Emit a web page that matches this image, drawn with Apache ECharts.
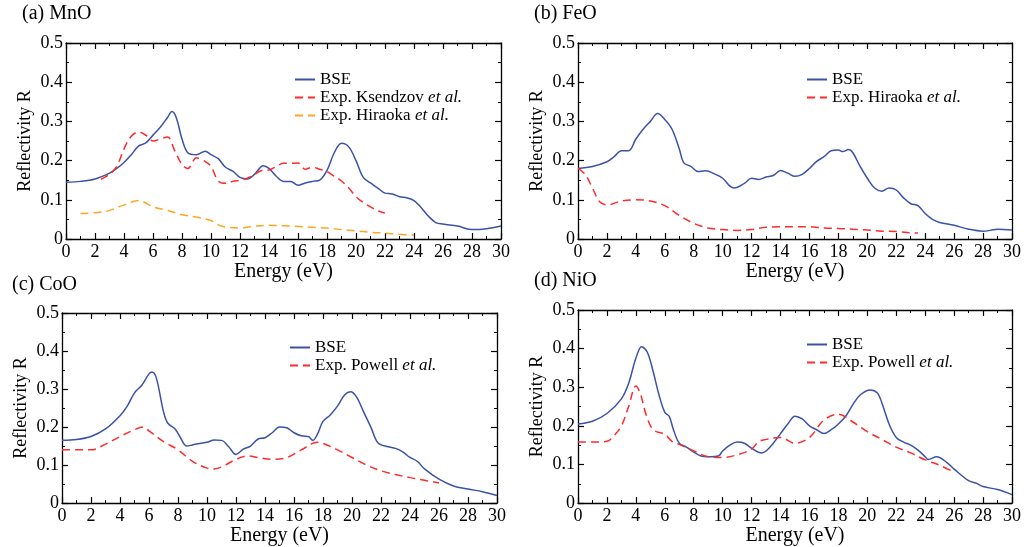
<!DOCTYPE html>
<html><head><meta charset="utf-8">
<script src="https://cdn.jsdelivr.net/npm/echarts@6/dist/echarts.min.js"></script>
<style>html,body{margin:0;padding:0;background:#fff}#c{width:1024px;height:547px}</style>
</head><body><div id="c"></div>
<script>
// ---- data (Energy eV, Reflectivity R) ----
const panelTitles = ['(a) MnO', '(b) FeO', '(c) CoO', '(d) NiO'];
const xTicks = [0, 30, 2];
const yTicks = [0, 0.5, 0.1];

const mnoBSE = [[0,0.145],[1,0.147],[2,0.153],[3,0.168],[3.5,0.18],[4,0.195],[4.5,0.215],[5,0.237],[5.5,0.245],[6,0.265],[6.5,0.285],[7,0.31],[7.3,0.325],[7.6,0.31],[8,0.255],[8.4,0.22],[9,0.215],[9.6,0.224],[10,0.215],[10.5,0.205],[11,0.183],[11.5,0.173],[12,0.157],[12.5,0.153],[13,0.165],[13.6,0.187],[14,0.18],[14.5,0.16],[15,0.147],[15.5,0.147],[16,0.137],[16.5,0.143],[17,0.147],[17.5,0.15],[18,0.175],[18.5,0.22],[19,0.244],[19.5,0.235],[20,0.2],[20.5,0.157],[21,0.143],[21.5,0.13],[22,0.117],[22.5,0.115],[23,0.108],[23.5,0.105],[24,0.098],[24.5,0.08],[25,0.058],[25.5,0.042],[26,0.038],[27,0.033],[28,0.024],[28.5,0.024],[29,0.026],[30,0.033]];
const mnoKsendzov = [[2.4,0.152],[3,0.165],[3.5,0.185],[4,0.23],[4.5,0.262],[5,0.273],[5.5,0.265],[6,0.25],[6.5,0.255],[7,0.26],[7.5,0.225],[8,0.19],[8.4,0.18],[9,0.207],[9.5,0.2],[10,0.185],[10.5,0.148],[11,0.142],[11.5,0.147],[12,0.15],[12.5,0.155],[13,0.165],[13.5,0.175],[14,0.176],[14.5,0.185],[15,0.193],[15.5,0.193],[16,0.194],[16.5,0.178],[17,0.183],[17.5,0.178],[18,0.172],[18.5,0.16],[19,0.148],[19.5,0.13],[20,0.108],[20.5,0.093],[21,0.082],[21.5,0.072],[22,0.066]];
const mnoHiraoka = [[1,0.065],[2,0.067],[3,0.073],[4,0.087],[5,0.098],[6,0.082],[7,0.073],[8,0.062],[9,0.056],[10,0.047],[10.7,0.033],[12,0.028],[13,0.033],[14,0.035],[15,0.034],[16,0.032],[17,0.03],[18,0.028],[19,0.024],[20,0.021],[21,0.017],[22,0.015],[23,0.012],[24,0.01]];

const feoBSE = [[0,0.18],[1,0.185],[2,0.197],[2.5,0.21],[3,0.225],[3.5,0.225],[4,0.255],[4.5,0.28],[5,0.3],[5.5,0.32],[6,0.305],[6.5,0.28],[7,0.23],[7.3,0.195],[7.8,0.185],[8.3,0.172],[8.8,0.174],[9.5,0.165],[10,0.155],[10.5,0.135],[10.8,0.13],[11.5,0.142],[12,0.155],[12.5,0.152],[13,0.158],[13.5,0.162],[14,0.175],[14.5,0.168],[15,0.16],[15.5,0.165],[16,0.18],[16.5,0.198],[17,0.21],[17.5,0.225],[18,0.227],[18.3,0.223],[18.7,0.228],[19,0.22],[19.5,0.185],[20,0.155],[20.5,0.13],[21,0.122],[21.5,0.13],[22,0.125],[22.5,0.105],[23,0.09],[23.5,0.085],[24,0.065],[24.5,0.05],[25,0.042],[26,0.035],[27,0.025],[28,0.02],[28.5,0.022],[29,0.025],[30,0.023]];
const feoHiraoka = [[0,0.18],[0.5,0.165],[1,0.13],[1.5,0.095],[2,0.087],[3,0.097],[4,0.1],[5,0.097],[6,0.085],[7,0.06],[8,0.04],[9,0.028],[10,0.024],[11,0.022],[12,0.024],[13,0.03],[14,0.031],[15,0.031],[16,0.031],[17,0.028],[18,0.027],[19,0.025],[20,0.023],[21,0.02],[22,0.019],[23,0.016],[23.5,0.015]];

const cooBSE = [[0,0.165],[1,0.167],[2,0.175],[3,0.195],[4,0.23],[4.5,0.255],[5,0.29],[5.5,0.31],[6,0.34],[6.2,0.345],[6.5,0.33],[7,0.24],[7.3,0.21],[7.8,0.195],[8.2,0.17],[8.6,0.15],[9,0.153],[9.5,0.157],[10,0.16],[10.5,0.166],[11,0.165],[11.5,0.148],[12,0.128],[12.5,0.142],[13,0.15],[13.5,0.168],[14,0.172],[14.5,0.185],[15,0.2],[15.5,0.198],[16,0.185],[16.5,0.177],[17,0.175],[17.3,0.165],[17.6,0.18],[18,0.215],[18.5,0.232],[19,0.255],[19.5,0.285],[19.9,0.293],[20.3,0.28],[20.8,0.24],[21.3,0.2],[21.8,0.158],[22.5,0.148],[23,0.144],[23.5,0.135],[24,0.12],[24.5,0.11],[25,0.09],[26,0.063],[27,0.045],[28,0.037],[29,0.03],[30,0.02]];
const cooPowell = [[0,0.14],[1,0.14],[2,0.14],[3,0.155],[4,0.175],[5,0.193],[5.6,0.2],[6,0.19],[7,0.162],[8,0.14],[9,0.11],[10,0.092],[10.5,0.09],[11,0.095],[12,0.115],[12.8,0.124],[13.5,0.12],[14.5,0.115],[15.5,0.12],[16.5,0.14],[17.6,0.16],[18,0.157],[19,0.14],[20,0.12],[21,0.1],[22,0.085],[23,0.075],[24,0.067],[25,0.06],[26,0.053]];

const nioBSE = [[0,0.205],[1,0.212],[2,0.232],[3,0.27],[3.5,0.31],[4,0.375],[4.4,0.405],[4.8,0.39],[5.2,0.34],[5.6,0.28],[6,0.235],[6.3,0.225],[6.6,0.19],[7,0.155],[7.5,0.145],[8,0.132],[8.5,0.122],[9,0.12],[9.7,0.122],[10,0.135],[10.5,0.15],[11,0.158],[11.5,0.155],[12,0.142],[12.7,0.13],[13,0.135],[13.5,0.155],[14,0.18],[14.5,0.205],[15,0.225],[15.5,0.218],[16,0.2],[16.5,0.19],[17,0.18],[17.5,0.19],[18,0.205],[18.5,0.225],[19,0.255],[19.5,0.28],[20.2,0.293],[20.7,0.285],[21,0.26],[21.5,0.205],[22,0.17],[22.5,0.158],[23,0.15],[23.5,0.137],[24,0.12],[24.2,0.113],[24.8,0.12],[25.5,0.105],[26,0.088],[27,0.058],[27.5,0.052],[28,0.043],[29,0.035],[30,0.022]];
const nioPowell = [[0,0.158],[1,0.158],[2,0.16],[2.5,0.175],[3,0.2],[3.5,0.25],[4,0.303],[4.3,0.285],[4.7,0.23],[5.2,0.19],[6,0.178],[6.5,0.16],[7,0.152],[8,0.135],[9,0.12],[10,0.118],[11,0.125],[12,0.14],[12.5,0.16],[13,0.165],[14,0.17],[15,0.155],[16,0.17],[17,0.215],[18,0.23],[19,0.21],[20,0.185],[21,0.165],[22,0.145],[23,0.13],[24,0.112],[25,0.098],[26,0.08]];

// ---- styling ----
const FONT = '"Liberation Serif","DejaVu Serif",serif';
const BLUE = '#3a52a8', RED = '#ff2a2a', ORANGE = '#ffa520';
const grids = [
  {left: 66, top: 43, width: 435, height: 196},
  {left: 578, top: 43, width: 435, height: 196},
  {left: 62, top: 313, width: 435, height: 195},
  {left: 578, top: 310, width: 435, height: 195}
];
const titlePos = [[22, 4], [534, 4], [12, 275], [534, 271]];

const xAxes = [], yAxes = [];
grids.forEach((g, i) => {
  const common = {
    gridIndex: i, type: 'value', min: xTicks[0], max: xTicks[1], interval: xTicks[2],
    axisLine: {show: true, onZero: false, lineStyle: {color: '#000', width: 1.3}},
    axisTick: {show: true, inside: true, length: 6, lineStyle: {color: '#000', width: 1.2}},
    minorTick: {show: true, splitNumber: 2, length: 3, lineStyle: {color: '#000', width: 1}},
    splitLine: {show: false}
  };
  xAxes.push(Object.assign({}, common, {
    position: 'bottom', name: 'Energy (eV)', nameLocation: 'middle', nameGap: 19,
    nameTextStyle: {fontFamily: FONT, fontSize: 20, color: '#000'},
    axisLabel: {show: true, fontFamily: FONT, fontSize: 18, color: '#000', margin: 4}
  }));
  xAxes.push(Object.assign({}, common, {position: 'top', axisLabel: {show: false}}));
  const ycommon = Object.assign({}, common, {min: yTicks[0], max: yTicks[1], interval: yTicks[2]});
  yAxes.push(Object.assign({}, ycommon, {
    position: 'left', name: 'Reflectivity R', nameLocation: 'middle', nameGap: 32,
    nameTextStyle: {fontFamily: FONT, fontSize: 18, color: '#000'},
    axisLabel: {show: true, fontFamily: FONT, fontSize: 18, color: '#000', margin: 3,
      formatter: v => v === 0 ? '0' : v.toFixed(1)}
  }));
  yAxes.push(Object.assign({}, ycommon, {position: 'right', axisLabel: {show: false}}));
});

function line(name, data, grid, color, dashed) {
  return {
    type: 'line', name: name, data: data, xAxisIndex: grid * 2, yAxisIndex: grid * 2,
    symbol: 'none', smooth: 0.35, animation: false,
    lineStyle: {color: color, width: 1.5, type: dashed ? [8, 5] : 'solid'},
    itemStyle: {color: color}
  };
}
const series = [
  line('BSE', mnoBSE, 0, BLUE, false),
  line('Exp. Ksendzov et al.', mnoKsendzov, 0, RED, true),
  line('Exp. Hiraoka et al.', mnoHiraoka, 0, ORANGE, true),
  line('BSE', feoBSE, 1, BLUE, false),
  line('Exp. Hiraoka et al. ', feoHiraoka, 1, RED, true),
  line('BSE', cooBSE, 2, BLUE, false),
  line('Exp. Powell et al.', cooPowell, 2, RED, true),
  line('BSE', nioBSE, 3, BLUE, false),
  line('Exp. Powell et al.', nioPowell, 3, RED, true)
];

const legendData = [
  ['BSE', 'Exp. Ksendzov et al.', 'Exp. Hiraoka et al.'],
  ['BSE', 'Exp. Hiraoka et al. '],
  ['BSE', 'Exp. Powell et al.'],
  ['BSE', 'Exp. Powell et al.']
];
const legendPos = [[289, 66], [801, 66], [284, 334], [801, 331]];
const legends = legendData.map((d, i) => ({
  data: d, orient: 'vertical', left: legendPos[i][0], top: legendPos[i][1],
  itemWidth: 20, itemHeight: 14, itemGap: 1, selectedMode: false,
  itemStyle: {opacity: 0},
  textStyle: {fontFamily: FONT, fontSize: 17, color: '#000',
    rich: {i: {fontFamily: FONT, fontSize: 17, fontStyle: 'italic', color: '#000'}}},
  formatter: n => n.trim().replace('et al.', '{i|et al.}')
}));

const chart = echarts.init(document.getElementById('c'), null, {renderer: 'canvas'});
chart.setOption({
  animation: false,
  backgroundColor: '#fff',
  title: panelTitles.map((t, i) => ({text: t, left: titlePos[i][0], top: titlePos[i][1], padding: 0,
    textStyle: {fontFamily: FONT, fontSize: 20, fontWeight: 'normal', color: '#000'}})),
  grid: grids,
  xAxis: xAxes,
  yAxis: yAxes,
  legend: legends,
  series: series
});
</script></body></html>
